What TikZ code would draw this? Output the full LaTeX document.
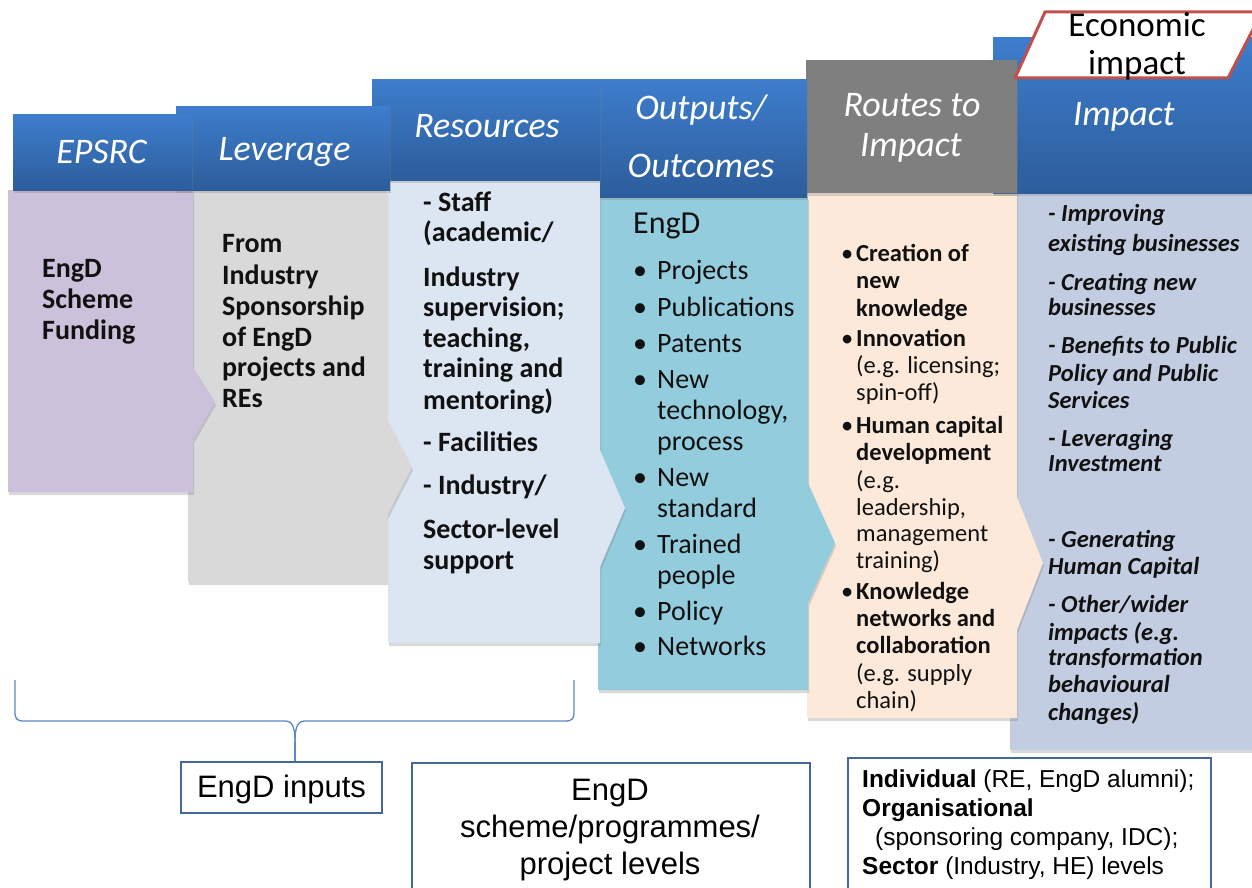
\documentclass[tikz,border=0pt]{standalone}
\usepackage{fontspec}
\setmainfont{Carlito}
\newfontfamily\arialfont{Liberation Sans}
\usetikzlibrary{shadows}

\definecolor{hdrtop}{HTML}{3D7DCC}
\definecolor{hdrbot}{HTML}{2D5D9B}
\definecolor{routegray}{HTML}{7F7F7F}
\definecolor{cPurple}{HTML}{CCC1DA}
\definecolor{cGray}{HTML}{D9D9D9}
\definecolor{cRes}{HTML}{DCE6F2}
\definecolor{cOut}{HTML}{93CDDD}
\definecolor{cRoute}{HTML}{FDE9D9}
\definecolor{cImpact}{HTML}{C3CDE2}
\definecolor{econred}{HTML}{C0504D}
\definecolor{boxline}{HTML}{44679A}
\definecolor{bracecol}{HTML}{5F85C2}
\definecolor{inkc}{HTML}{111111}

\tikzset{
  softshadow/.style={drop shadow={opacity=.3, shadow xshift=1pt, shadow yshift=-3pt}},
  hdrbox/.style={shape=rectangle, draw=none, inner sep=0pt, outer sep=0pt,
    top color=hdrtop, bottom color=hdrbot, softshadow},
  graybox/.style={shape=rectangle, draw=none, inner sep=0pt, outer sep=0pt,
    fill=routegray, softshadow},
  hdrtxt/.style={anchor=base, inner sep=0pt, text=white,
    font=\fontsize{36}{40}\selectfont\itshape},
  boldtxt/.style={anchor=base west, inner sep=0pt, text=inkc,
    font=\fontsize{28}{31}\selectfont\bfseries},
  outtxt/.style={anchor=base west, inner sep=0pt, text=inkc,
    font=\fontsize{28}{31}\selectfont},
  routetxt/.style={anchor=base west, inner sep=0pt, text=inkc,
    font=\fontsize{24.5}{27}\selectfont},
  imptxt/.style={anchor=base west, inner sep=0pt, text=inkc,
    font=\fontsize{24.5}{27}\selectfont\bfseries\itshape},
  outbox/.style={shape=rectangle, draw=boxline, line width=1.5pt, fill=white,
    inner sep=0pt},
  arialbig/.style={anchor=base, inner sep=0pt, text=black,
    font=\fontsize{31}{37}\selectfont\arialfont},
  arialsmall/.style={anchor=base west, inner sep=0pt, text=black,
    font=\fontsize{24.5}{29}\selectfont\arialfont},
  bracel/.style={draw=bracecol, line width=1.3pt},
}

\begin{document}
\begin{tikzpicture}[x=1pt,y=-1pt]
\useasboundingbox (0,0) rectangle (1252,888);
\clip (0,0) rectangle (1252,888);

% ---- column bodies, drawn right to left so each point overlaps the next body
\fill[cImpact, softshadow] (1010,193) rectangle (1262,750);
\fill[cRoute, softshadow] (807,193) -- (1017,193) -- (1017,497) -- (1043,563)
  -- (1017,630) -- (1017,718) -- (807,718) -- cycle;
\fill[cOut, softshadow] (598,197) -- (808,197) -- (808,483) -- (835,543)
  -- (808,603) -- (808,690) -- (598,690) -- cycle;
\fill[cRes, softshadow] (388,180) -- (600,180) -- (600,450) -- (625,508)
  -- (600,567) -- (600,643) -- (388,643) -- cycle;
\fill[cGray, softshadow] (188,190) -- (387,190) -- (387,418) -- (412,467)
  -- (387,516) -- (387,582) -- (188,582) -- cycle;
\fill[cPurple, softshadow] (8,190) -- (193,190) -- (193,367) -- (215,402)
  -- (193,440) -- (193,492) -- (8,492) -- cycle;

% ---- column headers
\node[hdrbox, minimum width=269pt, minimum height=155pt] (hImp) at (1127.5,115.5) {};
\node[graybox, minimum width=211pt, minimum height=133pt] (hRte) at (911.5,126.5) {};
\node[hdrbox, minimum width=207pt, minimum height=117pt] (hOut) at (703.5,138.5) {};
\node[hdrbox, minimum width=228pt, minimum height=100pt] (hRes) at (486,130) {};
\node[hdrbox, minimum width=214pt, minimum height=83pt] (hLev) at (283,148.5) {};
\node[hdrbox, minimum width=179pt, minimum height=75pt] (hEps) at (102.5,152.5) {};

\node[hdrtxt] (tEps) at (101.5,163) {EPSRC};
\node[hdrtxt] (tLev) at (284.5,160) {Leverage};
\node[hdrtxt] (tRes) at (487,138) {Resources};
\node[hdrtxt] (tOut1) at (701,120) {Outputs/};
\node[hdrtxt] (tOut2) at (701,177) {Outcomes};
\node[hdrtxt] (tRte1) at (912,117) {Routes to};
\node[hdrtxt] (tRte2) at (911,157) {Impact};
\node[hdrtxt] (tImp) at (1124,125) {Impact};

% ---- economic impact tag
\draw[econred, line width=3pt, fill=white, line join=miter]
  (1015,78) -- (1045,12) -- (1262,12) -- (1228,78) -- cycle;
\node[anchor=base, inner sep=0pt, text=black, font=\fontsize{35}{38}\selectfont]
  (econ1) at (1137,37) {Economic};
\node[anchor=base, inner sep=0pt, text=black, font=\fontsize{35}{38}\selectfont]
  (econ2) at (1137,75) {impact};

% ---- EPSRC body text
\foreach \yy/\txt [count=\i] in {268/EngD, 299/Scheme, 330/Funding}
  \node[boldtxt] (fund\i) at (42,\yy+9.5) {\txt};

% ---- Leverage body text
\foreach \yy/\txt [count=\i] in {243/From, 275/Industry, 306/Sponsorship,
    337/{of EngD}, 367/{projects and}, 398/REs}
  \node[boldtxt] (lev\i) at (222,\yy+9.5) {\txt};

% ---- Resources body text
\foreach \yy/\txt [count=\i] in {202/{- Staff}, 232/{(academic/}, 277/Industry,
    307/{supervision;}, 338/{teaching,}, 368/{training and}, 400/{mentoring)},
    442/{- Facilities}, 485/{- Industry/}, 529/{Sector-level}, 560/support}
  \node[boldtxt] (res\i) at (423,\yy+9.5) {\txt};

% ---- Outputs / Outcomes body text
\node[anchor=base west, inner sep=0pt, text=inkc, font=\fontsize{32}{36}\selectfont]
  (outHead) at (633,233) {EngD};
\foreach \yy/\txt [count=\i] in {270/Projects, 307/Publications, 343/Patents,
    379/New, 410/{technology,}, 441/process, 477/New, 508/standard,
    544/Trained, 575/people, 611/Policy, 646/Networks}
  \node[outtxt] (out\i) at (657,\yy+9) {\txt};
\foreach \yy [count=\i] in {270,307,343,379,477,544,611,646}
  \node[outtxt] (outb\i) at (633,\yy+9) {\textbullet};

% ---- Routes to Impact body text
\foreach \yy/\txt [count=\i] in {253/{\textbf{Creation of}}, 280/{\textbf{new}},
    308/{\textbf{knowledge}}, 338/{\textbf{Innovation}}, 365/{(e.g. licensing;},
    392/{spin-off)}, 425/{\textbf{Human capital}}, 452/{\textbf{development}},
    480/{(e.g.}, 507/{leadership,}, 533/management, 560/{training)},
    591/{\textbf{Knowledge}}, 618/{\textbf{networks and}},
    645/{\textbf{collaboration}}, 673/{(e.g. supply}, 700/{chain)}}
  \node[routetxt] (rte\i) at (856,\yy+8) {\txt};
\foreach \yy [count=\i] in {253,338,425,591}
  \node[routetxt] (rteb\i) at (841,\yy+8) {\textbullet};

% ---- Impact body text
\foreach \yy/\txt [count=\i] in {213/{- Improving}, 243/{existing businesses},
    282/{- Creating new}, 307/businesses, 345/{- Benefits to Public},
    373/{Policy and Public}, 400/Services, 438/{- Leveraging}, 463/Investment,
    539/{- Generating}, 566/{Human Capital}, 604/{- Other/wider},
    632/{impacts (e.g.}, 657/transformation, 684/behavioural, 712/{changes)}}
  \node[imptxt] (imp\i) at (1048,\yy+8) {\txt};

% ---- level boxes along the bottom
\node[outbox, minimum width=201pt, minimum height=51pt] (inputs) at (281.5,787.5) {};
\node[arialbig] (inputsT) at (281.5,797) {EngD inputs};

\node[outbox, anchor=north west, minimum width=398pt, minimum height=150pt]
  (levels) at (411,762) {};
\node[arialbig] (lev1T) at (610,800) {EngD};
\node[arialbig] (lev2T) at (610,837) {scheme/programmes/};
\node[arialbig] (lev3T) at (610,874) {project levels};

\node[outbox, anchor=north west, minimum width=363pt, minimum height=150pt]
  (scope) at (847,757) {};
\node[arialsmall] (sc1) at (862,787) {\textbf{Individual} (RE, EngD alumni);};
\node[arialsmall] (sc2) at (862,816) {\textbf{Organisational}};
\node[arialsmall] (sc3) at (875,845) {(sponsoring company, IDC);};
\node[arialsmall] (sc4) at (862,874) {\textbf{Sector} (Industry, HE) levels};

% ---- brace grouping the input columns
\coordinate (bL) at (15,680);
\coordinate (bR) at (574,680);
\coordinate (bTip) at (295,742);
\draw[bracel] (bL) -- (15,712) .. controls (15,719) and (17,721) .. (24,721)
  -- (285,721) .. controls (292,721) and (295,726) .. (bTip);
\draw[bracel] (bR) -- (574,712) .. controls (574,719) and (572,721) .. (565,721)
  -- (305,721) .. controls (298,721) and (295,726) .. (bTip);
\draw[bracel] (bTip) -- (bTip |- inputs.north);
\end{tikzpicture}
\end{document}
